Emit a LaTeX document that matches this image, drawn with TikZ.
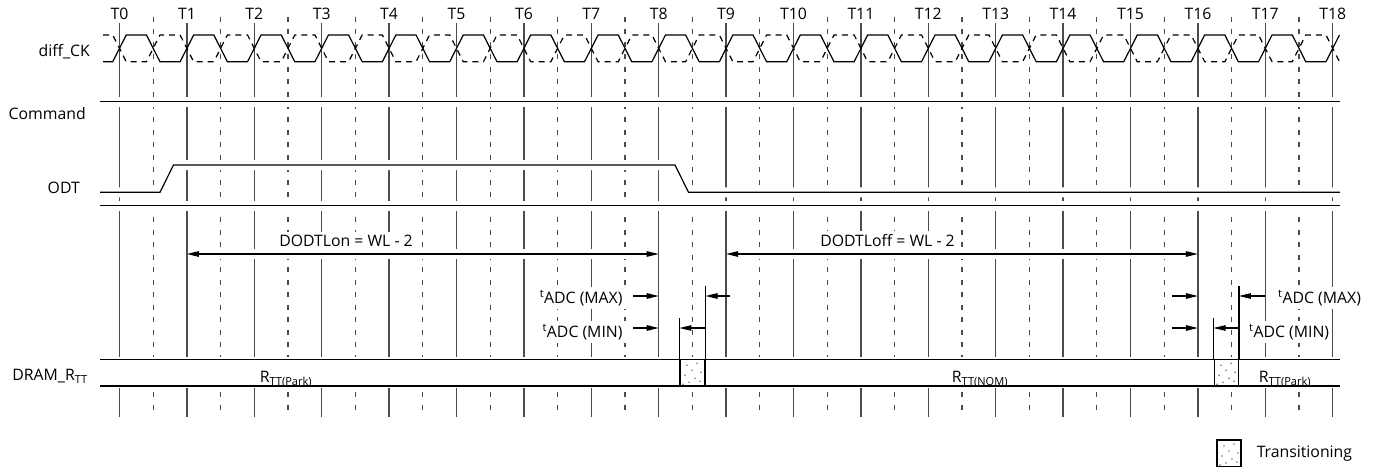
\documentclass[tikz,border=0pt]{standalone}
\usepackage{fontspec}
\setmainfont{Open Sans}
\usetikzlibrary{arrows.meta,positioning}
\definecolor{gridgray}{RGB}{75,75,75}
\definecolor{dotgray}{RGB}{120,120,120}
\newcommand{\tz}{119.5}
\newcommand{\per}{67.4}

\begin{document}
\begin{tikzpicture}[x=1pt,y=-1pt,font=\fontsize{15.8}{18}\selectfont]
  \tikzstyle{wave}=[line width=1.2pt,black,line join=miter]
  \tikzstyle{tick}=[line width=1.3pt,gridgray]
  \tikzstyle{halftick}=[line width=1.1pt,gridgray,dash pattern=on 5pt off 7.5pt]
  \tikzstyle{halo}=[line width=10pt,white,line join=round]
  \tikzstyle{dim}=[line width=1.1pt,>={Triangle[length=12pt,width=5.5pt]},<->]
  \tikzstyle{adc}=[line width=1.1pt,>={Triangle[length=12pt,width=5.5pt]},->]
  \tikzstyle{whitelabel}=[fill=white,inner sep=3pt]
  \tikzstyle{trans}=[draw,line width=1.1pt,minimum width=25pt,minimum height=26.7pt,inner sep=0pt,
    path picture={\foreach \dx/\dy in {7/6,17/4,12/11,21/13,5/16,15/19,9/23,20/22,3/25}
      \fill[dotgray] ([xshift=\dx pt,yshift=-\dy pt]path picture bounding box.north west) circle (0.9pt);}]
  \useasboundingbox (0,0) rectangle (1380,468);

  \foreach \i in {0,...,18} \coordinate (T\i) at ({\tz+\i*\per},0);
  \coordinate (ydim) at (0,254);
  \coordinate (ymax) at (0,296);
  \coordinate (ymin) at (0,328);

  % clock grid
  \foreach \i in {0,...,18} \draw[tick] ({\tz+\i*\per},23) -- ({\tz+\i*\per},416.5);
  \foreach \i in {0,...,17} \draw[halftick] ({\tz+(\i+0.5)*\per},17) -- ({\tz+(\i+0.5)*\per},416.5);

  % gaps round the signals
  \fill[white] (98,356.7) rectangle (1342,388);
  \draw[halo] (100,101.7) -- (1340,101.7);
  \draw[halo] (100,192.3) -- (160,192.3) -- (173.5,165) -- (675,165) -- (688.5,192.3) -- (1340,192.3);
  \draw[halo] (100,205.7) -- (1340,205.7);
  \draw[halo] ({\tz+\per+2},254) -- ({\tz+8*\per-2},254);
  \draw[halo] ({\tz+9*\per+2},254) -- ({\tz+16*\per-2},254);

  % signals
  \draw[wave] (103,61.7) \foreach \i in {0,...,17} {
      -- ({\tz+\i*\per-6.75},61.7) -- ({\tz+\i*\per+6.75},35)
      -- ({\tz+(\i+0.5)*\per-6.75},35) -- ({\tz+(\i+0.5)*\per+6.75},61.7)}
    -- ({\tz+18*\per-6.75},61.7) -- ({\tz+18*\per+6.75},35);
  \draw[wave,dash pattern=on 6pt off 5pt] (103,35) \foreach \i in {0,...,17} {
      -- ({\tz+\i*\per-6.75},35) -- ({\tz+\i*\per+6.75},61.7)
      -- ({\tz+(\i+0.5)*\per-6.75},61.7) -- ({\tz+(\i+0.5)*\per+6.75},35)}
    -- ({\tz+18*\per-6.75},35) -- ({\tz+18*\per+6.75},61.7);
  \draw[wave] (100,101.7) -- (1340,101.7);
  \draw[wave] (100,192.3) -- (160,192.3) -- (173.5,165) -- (675,165) -- (688.5,192.3) -- (1340,192.3);
  \draw[wave] (100,205.7) -- (1340,205.7);
  \draw[wave] (100,359.3) -- (1340,359.3);
  \draw[wave] (100,386) -- (1340,386);

  % labels
  \foreach \i in {0,...,18} \node[anchor=base,inner sep=0pt] (lbl\i) at ({\tz+\i*\per},20) {T\i};
  \node[anchor=base east,inner sep=0pt] (ck) at (90,57) {diff\_CK};
  \node[anchor=base east,inner sep=0pt] (cmd) at (86,120) {Command};
  \node[anchor=base east,inner sep=0pt] (odt) at (80,193) {ODT};
  \node[anchor=base east,inner sep=0pt] (rtt) at (88,380.5) {DRAM\_R\textsubscript{TT}};
  \node[anchor=base,inner sep=0pt] (park1) at (286,382) {R\textsubscript{TT(Park)}};
  \node[anchor=base,inner sep=0pt] (nom) at (980,382) {R\textsubscript{TT(NOM)}};
  \node[anchor=base,inner sep=0pt] (park2) at (1285,382) {R\textsubscript{TT(Park)}};

  % ODT latency
  \draw[dim] (T1 |- ydim) -- (T8 |- ydim);
  \node[whitelabel,anchor=base] (on) at (346,246) {DODTLon = WL - 2};
  \draw[dim] (T9 |- ydim) -- (T16 |- ydim);
  \node[whitelabel,anchor=base] (off) at (887.5,246) {DODTLoff = WL - 2};

  % transitions
  \node[trans] (tr1) at (692.5,372.65) {};
  \node[trans,minimum width=24.3pt] (tr2) at (1226.2,372.65) {};
  \draw[wave] (tr1.north east) -- ++(0,-72.6);
  \draw[wave] (tr1.north west) -- ++(0,-40.3);
  \draw[wave] (tr2.north east) -- ++(0,-72.6);
  \draw[wave] (tr2.north west) -- ++(0,-40.3);

  \node[whitelabel,anchor=base east] (max1) at (625.7,303) {\textsuperscript{t}ADC (MAX)};
  \node[whitelabel,anchor=base east] (min1) at (625.7,337) {\textsuperscript{t}ADC (MIN)};
  \draw[adc] (633,296) -- (T8 |- ymax);
  \draw[adc] (633,328) -- (T8 |- ymin);
  \draw[adc] (730,296) -- (tr1.north east |- ymax);
  \draw[adc] (tr1.north east |- ymin) -- (tr1.north west |- ymin);

  \node[whitelabel,anchor=base west] (max2) at (1275,303) {\textsuperscript{t}ADC (MAX)};
  \node[whitelabel,anchor=base west] (min2) at (1246,337) {\textsuperscript{t}ADC (MIN)};
  \draw[adc] (1171.7,296) -- (T16 |- ymax);
  \draw[adc] (1171.7,328) -- (T16 |- ymin);
  \draw[adc] (T17 |- ymax) -- (tr2.north east |- ymax);
  \draw[adc] (tr2.north east |- ymin) -- (tr2.north west |- ymin);

  % legend
  \node[trans,minimum width=24pt] (legbox) at (1229,453.3) {};
  \node[right=15pt of legbox,inner sep=0pt] (legtxt) {Transitioning};
\end{tikzpicture}
\end{document}
